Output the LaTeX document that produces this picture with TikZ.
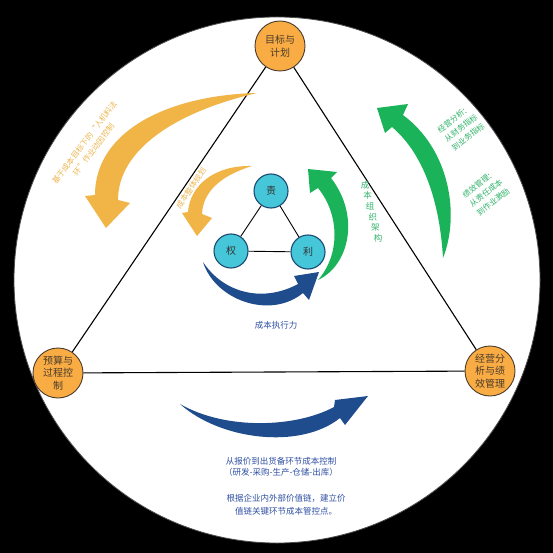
\documentclass[tikz,border=0pt]{standalone}
\usepackage{fontspec}
\newfontfamily\cjk{Noto Sans CJK SC}
\definecolor{nodeorange}{HTML}{F9AC43}
\definecolor{nodeedge}{HTML}{4A3B2C}
\definecolor{innercyan}{HTML}{45C6D9}
\definecolor{inneredge}{HTML}{1D4A73}
\definecolor{arrowyellow}{HTML}{F0B447}
\definecolor{arrowgreen}{HTML}{1BB35A}
\definecolor{arrowblue}{HTML}{1F4C8C}
\definecolor{textyellow}{HTML}{EDB650}
\definecolor{textgreen}{HTML}{2FB36A}
\definecolor{textblue}{HTML}{2F4FA3}
\begin{document}
\begin{tikzpicture}[x=1pt,y=-1pt,
		stage/.style={circle,draw=nodeedge,line width=0.9pt,fill=nodeorange,minimum size=50pt,inner sep=0pt,align=center,text=nodeedge,font=\cjk\fontsize{10}{12.5}\selectfont},
		core/.style={circle,draw=inneredge,line width=1.1pt,fill=innercyan,minimum size=34pt,inner sep=0pt,text=black!80,font=\cjk\fontsize{10}{12}\selectfont},
		note/.style={inner sep=0pt,font=\cjk\fontsize{7.8}{11.5}\selectfont}]
		\useasboundingbox (0,0) rectangle (553,553);
		\fill [black] (0,0) rectangle (553,553);
		\fill [white] (277,280) circle (263);
		\draw [black!70,line width=0.8pt] (277,280) circle (263);
		% outer triangle
		\node [stage] (goal) at (280,46) {目标与\\计划};
		\node [stage] (budget) at (58,373) {预算与\\过程控\\制};
		\node [stage] (review) at (490,371) {经营分\\析与绩\\效管理};
		\draw [line width=1.1pt] (goal) -- (budget);
		\draw [line width=1.1pt] (goal) -- (review);
		\draw [line width=1.1pt] (budget) -- (review);
		% inner triangle
		\node [core] (duty) at (271,191) {责};
		\node [core] (power) at (231,251) {权};
		\node [core] (gain) at (308,252) {利};
		\draw [line width=0.9pt] (duty) -- (power);
		\draw [line width=0.9pt] (duty) -- (gain);
		\draw [line width=0.9pt] (power) -- (gain);
		% yellow arrows
		\fill [arrowyellow] (257,93) .. controls (170,95) and (95,130) .. (95,195) -- (85,196) -- (106,228) -- (130,203) -- (118,200) .. controls (118,150) and (175,112) .. (257,93) -- cycle;
		\fill [arrowyellow] (252,166) .. controls (215,165) and (190,185) .. (188,212) -- (182,213) -- (197,236) -- (212,218) -- (202,214) .. controls (203,192) and (220,176) .. (252,166) -- cycle;
		% green arrows
		\fill [arrowgreen] (443,258) .. controls (460,215) and (450,150) .. (403,115) -- (408,104) -- (377,108) -- (385,133) -- (392,127) .. controls (425,155) and (440,205) .. (443,258) -- cycle;
		\fill [arrowgreen] (318,280) .. controls (350,265) and (360,215) .. (331,178) -- (337,172) -- (308,169) -- (310,193) -- (318,188) .. controls (340,215) and (340,255) .. (318,280) -- cycle;
		% blue arrows
		\fill [arrowblue] (203,262) .. controls (215,300) and (270,320) .. (303,293) -- (309,300) -- (319,272) -- (294,276) -- (298,284) .. controls (265,302) and (225,295) .. (203,262) -- cycle;
		\fill [arrowblue] (180,404) .. controls (220,440) and (300,450) .. (340,418) -- (345,425) -- (368,396) -- (335,400) -- (334,407) .. controls (295,428) and (225,430) .. (180,404) -- cycle;
		% labels
		\node [note,text=textyellow,rotate=53,align=center] (actlabel) at (89,146) {基于成本目标下的“人机料法\\环”作业动因控制};
		\node [note,text=textyellow,rotate=56] (planlabel) at (191,188) {成本整体规划};
		\foreach \c [count=\i] in {成,本,组,织,架,构}
			\node [note,text=textgreen,font=\cjk\fontsize{8.5}{10}\selectfont] (org\i) at ({362.4+2.6*\i},{174.4+10.6*\i}) {\c};
		\node [note,text=textgreen,rotate=38,align=left] (analabel) at (461,128) {经营分析：\\从财务指标\\到业务指标};
		\node [note,text=textgreen,rotate=38,align=left] (perflabel) at (486,193) {绩效管理：\\从责任成本\\到作业激励};
		\node [note,text=textblue,font=\cjk\fontsize{8.5}{10}\selectfont] (execlabel) at (276,325) {成本执行力};
		\node [note,text=textblue,align=center,font=\cjk\fontsize{8.5}{11.5}\selectfont] (chainlabel) at (281,467) {从报价到出货备环节成本控制\\（研发-采购-生产-仓储-出库）};
		\node [note,text=textblue,align=center,font=\cjk\fontsize{8.5}{12.5}\selectfont] (valuelabel) at (286,505) {根据企业内外部价值链，建立价\\值链关键环节成本管控点。};
	\end{tikzpicture}
\end{document}
